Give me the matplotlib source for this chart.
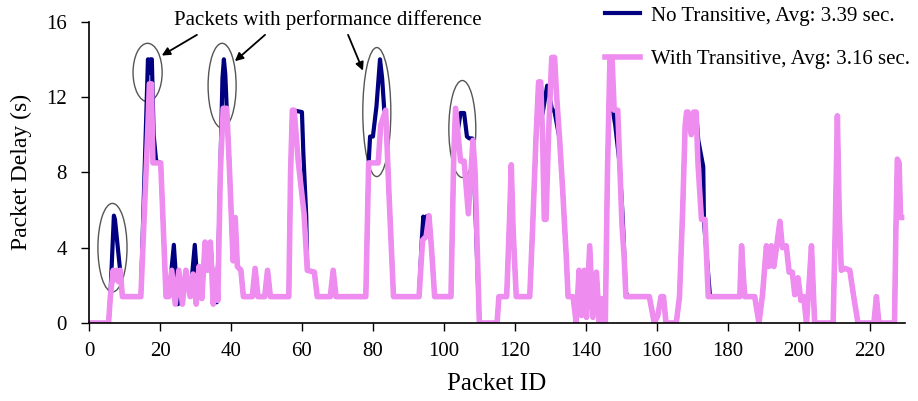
import matplotlib
matplotlib.use("Agg")
import matplotlib.pyplot as plt
from matplotlib.patches import Ellipse

plt.rcParams['font.family'] = 'serif'
plt.rcParams['font.serif'] = ['Liberation Serif', 'DejaVu Serif']

# packet id / delay breakpoints
with_id = [0, 5.5, 6, 6.8, 7.3, 7.8, 8.3, 8.8, 9.4, 14.6, 16.5, 17, 17.6, 18, 20.2, 21.7,
           22.5, 23.3, 24.3, 25.3, 26.3, 27.3, 28.5, 29.3, 30.2, 31, 31.8, 32.7, 33.4, 34.2,
           35, 35.8, 36.3, 37, 37.8, 38.8, 39.5, 40.1, 40.6, 41.2, 41.8, 42.8, 43.5, 46,
           46.8, 47.6, 49.5, 50.3, 51.1, 56.3, 56.8, 57.3, 57.8, 59, 60.6, 61.5, 63.5, 64.3,
           68, 68.8, 69.6, 78, 78.8, 81.5, 82.2, 83.6, 84.5, 85.8, 93, 94, 95, 95.8, 96.5,
           97.4, 102, 102.8, 103.3, 104, 104.7, 105.7, 106.9, 108.2, 108.8, 110, 115, 115.5,
           117.7, 118.5, 119, 119.5, 120.4, 124.2, 125, 126, 126.7, 127.3, 127.8, 128.3,
           128.8, 129.5, 130.4, 131.2, 131.8, 132.6, 133.5, 134.5, 135, 136.4, 137.3, 138.1,
           138.8, 139.6, 140.2, 141.1, 142, 143, 143.8, 144.4, 145, 145.5, 146.1, 146.8,
           147.4, 148, 149, 150.2, 150.8, 151.3, 157.9, 159.3, 160.3, 161.2, 161.9, 162.6,
           165.5, 166.4, 167.3, 168, 168.4, 168.8, 169.7, 170.4, 171.1, 171.6, 172.6, 173.6,
           174.5, 183.4, 183.9, 184.4, 184.8, 187.6, 188.8, 189.8, 190.9, 191.6, 192.3, 193,
           193.8, 194.7, 195.4, 196.5, 197.3, 198.2, 198.9, 199.8, 200.6, 201.4, 202.2,
           202.9, 203.6, 204.5, 209.7, 210.3, 210.9, 211.4, 212, 213, 214.4, 215.5, 216.7,
           221.2, 221.9, 222.6, 227, 227.4, 227.8, 228.3, 228.7, 229]
with_delay = [0, 0, 1.4, 2.8, 2.3, 2.8, 2.2, 2.8, 1.4, 1.4, 10, 12.7, 12.7, 8.5, 8.5, 1.4,
              1.4, 2.8, 1.0, 2.8, 1.0, 2.8, 1.4, 2.6, 1.0, 3.0, 1.3, 4.3, 2.8, 4.3,
              1.0, 2.8, 1.2, 8, 11.4, 11.4, 8.5, 5.6, 3.3, 5.6, 3.0, 2.8, 1.4, 1.4,
              2.9, 1.4, 1.4, 2.8, 1.4, 1.4, 8, 11.3, 11.3, 8.5, 5.8, 2.8, 2.7, 1.4,
              1.4, 2.8, 1.4, 1.4, 8.5, 8.5, 10.5, 11.3, 7, 1.4, 1.4, 4.4, 4.6, 5.7, 4,
              1.4, 1.4, 9, 11.4, 10, 8.6, 8.6, 5.8, 9.7, 8, 0, 0, 1.4,
              1.4, 5.5, 8.4, 5, 1.4, 1.4, 5, 10, 12.8, 12.8, 10, 5.5,
              5.5, 10, 14.1, 14.1, 12, 9.8, 7, 3.5, 1.4, 1.4, 0, 2.8,
              0.4, 2.8, 0.3, 4.1, 0.3, 2.7, 0, 1.3, 0, 0, 8, 14.1,
              14.1, 11.3, 11.3, 5.2, 3.5, 1.4, 1.4, 0, 0.4, 1.4, 1.4, 0,
              0, 1.4, 6, 10.5, 11.2, 11.2, 10, 11.2, 11.2, 8.5, 5.5, 5.5,
              1.4, 1.4, 4.1, 2.5, 1.4, 1.4, 0, 1.5, 4.1, 3, 4.1, 3,
              4.1, 5.4, 4.0, 4.1, 2.7, 2.7, 1.5, 2.4, 1.2, 1.4, 0,
              2, 4.1, 0, 0, 5, 11.0, 6, 2.8, 2.9, 2.8, 1.4, 0,
              0, 1.4, 0, 0, 5, 8.7, 8.5, 5.6, 5.6]

no_id = [0, 5.5, 6, 6.5, 7.0, 7.3, 8.7, 9.4, 14.6, 16.3, 16.6, 17.0, 17.3, 17.7, 18.2, 18.9,
         20.2, 21.7, 22.5, 23.9, 24.3, 25, 26.3, 27.3, 28.5, 29.8, 30.4, 31, 31.8, 32.7, 33.4,
         34.2, 35.3, 36, 36.5, 37.6, 38.0, 38.4, 38.8, 39.5, 40.1, 40.6, 41.2, 41.8, 42.8,
         43.5, 46, 46.8, 47.6, 49.5, 50.3, 51.1, 56.3, 56.8, 57.3, 60, 60.4, 61.2, 61.5,
         63.5, 64.3, 68, 68.8, 69.6, 78, 78.8, 79.2, 80, 81, 82, 82.6, 83.2, 83.6, 84.5,
         85.8, 93, 93.8, 94.2, 94.6, 95, 95.8, 96.5, 97.4, 102, 102.8, 103.3, 104, 104.7,
         105.7, 106.5, 107.2, 108, 108.5, 110, 115, 115.5, 117.7, 118.5, 119, 119.5, 120.4,
         124.2, 125, 126, 126.7, 127.3, 127.8, 129.1, 129.8, 130.4, 131.2, 132.6, 133.5,
         134.5, 135, 136.4, 137.3, 138.1, 138.8, 139.6, 140.2, 141.1, 142, 143, 143.8,
         144.4, 145, 145.5, 146.1, 146.8, 147.4, 147.6, 148.3, 149.5, 150.4, 151.3, 152,
         157.9, 159.3, 160.3, 161.2, 161.9, 162.6, 165.5, 166.4, 167.3, 168, 168.4, 168.8,
         169.7, 170.4, 171.1, 171.7, 173.1, 173.3, 175, 183.4, 183.9, 184.4, 184.8, 187.6,
         188.8, 189.8, 190.9, 191.6, 192.3, 193, 193.8, 194.7, 195.4, 196.5, 197.3, 198.2,
         198.9, 199.8, 200.6, 201.4, 202.2, 202.9, 203.6, 204.5, 209.7, 210.3, 210.9,
         211.4, 212, 213, 214.4, 215.5, 216.7, 221.2, 221.9, 222.6, 227, 227.4, 227.8,
         228.3, 228.7, 229]
no_delay = [0, 0, 1.4, 3.5, 5.7, 5.5, 2.9, 1.4, 1.4, 12, 14, 13.3, 14, 14, 10, 8.6,
            8.5, 1.4, 1.4, 4.15, 3, 1.0, 1.2, 2.8, 1.4, 4.15, 2.5, 3.0, 1.3, 4.3, 2.8,
            4.3, 1.2, 1.1, 4, 13, 14.0, 13.2, 11.4, 8.5, 5.6, 3.3, 5.6, 3.0, 2.8,
            1.4, 1.4, 2.9, 1.4, 1.4, 2.8, 1.4, 1.4, 8, 11.3, 11.2, 9, 5.7, 2.8,
            2.7, 1.4, 1.4, 2.8, 1.4, 1.4, 8.5, 9.9, 9.9, 11.5, 14, 13, 11.3, 11.3, 7,
            1.4, 1.4, 4.5, 5.65, 4.5, 5.65, 5.7, 4, 1.4, 1.4, 9, 11.4, 10.3, 11.15,
            11.15, 9.9, 9.8, 9.8, 8, 0, 0, 1.4, 1.4, 5.5, 8.4, 5, 1.4,
            1.4, 5, 10, 12.8, 12.8, 11.1, 12.6, 12, 11.4, 11.2, 9.8, 7,
            3.5, 1.4, 1.4, 0, 2.8, 0.4, 2.8, 0.3, 4.1, 0.3, 2.7, 0,
            1.3, 0, 0, 8, 14.1, 14.1, 11.3, 10.5, 8.5, 5.6, 1.6, 1.4,
            1.4, 0, 0.4, 1.4, 1.4, 0, 0, 1.4, 6, 10.5, 11.2, 11.2,
            10, 11.2, 11.2, 9.7, 8.3, 5.4, 1.4, 1.4, 4.1, 2.5, 1.4, 1.4,
            0, 1.5, 4.1, 3, 4.1, 3, 4.1, 5.4, 4.0, 4.1, 2.7, 2.7,
            1.5, 2.4, 1.2, 1.4, 0, 2, 4.1, 0, 0, 5, 11.0,
            6, 2.8, 2.9, 2.8, 1.4, 0, 0, 1.4, 0, 0, 5, 8.7,
            8.5, 5.6, 5.6]

x_ticks = list(range(0, 221, 20))
y_ticks = [0, 4, 8, 12, 16]

# highlighted peaks: (center id, center delay, width, height)
circles = [(6.6, 4.0, 8.2, 4.7), (16.5, 13.3, 8.2, 3.1), (37.5, 12.6, 7.9, 4.5),
           (81.1, 11.2, 7.9, 6.85), (105.2, 10.3, 7.6, 5.15)]

fig = plt.figure(figsize=(9.18, 4.01), dpi=100)
ax = fig.add_axes([0.097, 0.1945, 0.889, 0.7515])

ax.plot(no_id, no_delay, color='#000080', lw=3.0, solid_joinstyle='round',
        label='No Transitive, Avg: 3.39 sec.')
ax.plot(with_id, with_delay, color='#EE8CF0', lw=4.0, solid_joinstyle='round',
        label='With Transitive, Avg: 3.16 sec.')

for cx, cy, w, h in circles:
    ax.add_patch(Ellipse((cx, cy), w, h, fill=False, edgecolor='#555555', lw=1.0))

ax.text(23.9, 16.1, 'Packets with performance difference', fontsize=15,
        ha='left', va='center', clip_on=False)
for start, end in [((30.4, 15.3), (20.5, 14.2)), ((49.6, 15.3), (41.1, 13.9)),
                   ((73.0, 15.3), (77.2, 13.4))]:
    ax.annotate('', xy=end, xytext=start, annotation_clip=False,
                arrowprops=dict(arrowstyle='-|>', color='black', lw=1.3,
                                mutation_scale=12, shrinkA=0, shrinkB=0))

ax.set_xlim(0, 230)
ax.set_ylim(0, 16)
ax.set_xticks(x_ticks)
ax.set_yticks(y_ticks)
ax.tick_params(direction='out', length=6, width=1, labelsize=15)
ax.tick_params(axis='x', pad=8)
ax.tick_params(axis='y', pad=10)
for s in ['top', 'right']:
    ax.spines[s].set_visible(False)
for s in ['left', 'bottom']:
    ax.spines[s].set_linewidth(1.2)

ax.set_xlabel('Packet ID', fontsize=18, labelpad=8)
ax.set_ylabel('Packet Delay (s)', fontsize=17, labelpad=10)

leg = ax.legend(loc='upper left', bbox_to_anchor=(0.659, 0.985),
                bbox_transform=fig.transFigure, frameon=False, fontsize=15,
                borderpad=0, borderaxespad=0, handlelength=1.7, handletextpad=0.5,
                labelspacing=1.15)

fig.savefig('out.png', dpi=100)
